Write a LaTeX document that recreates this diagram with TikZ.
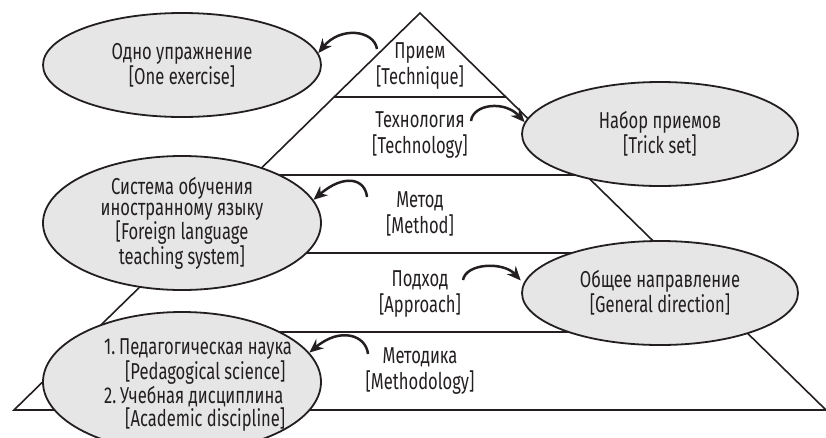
\documentclass[tikz,border=0pt]{standalone}
\usepackage{fontspec}
\setmainfont[FakeStretch=0.72]{Fira Sans}
\usetikzlibrary{shapes.geometric,arrows.meta,calc}
\definecolor{bubfill}{RGB}{230,230,230}
\definecolor{ink}{RGB}{35,31,32}
\newcommand\ebody{\fontsize{23}{21}\selectfont}
\newcommand\fbody{\fontsize{23}{19.5}\selectfont}
\newcommand\pbody{\fontsize{23}{26}\selectfont}
\begin{document}
\begin{tikzpicture}[x=1pt,y=-1pt,
  bub/.style={ellipse, draw=ink, line width=1.8pt, fill=bubfill, inner sep=0pt,
              minimum width=278pt, minimum height=104pt, align=center, font=\ebody, text=ink},
  lab/.style={align=center, font=\pbody, inner sep=0pt, text=ink},
  arr/.style={draw=ink, line width=2.5pt, -{Stealth[length=14pt,width=12pt]}},
  pyr/.style={draw=ink, line width=1.6pt}]
\clip (0,0) rectangle (826,437);
% pyramid
\coordinate (apex) at (420,13);
\coordinate (bl) at (14,410);
\coordinate (br) at (826,410);
\draw[pyr] (apex) -- (bl) -- (br) -- cycle;
\foreach \t [count=\i] in {0.2116,0.4081,0.6045,0.8035}{
  \coordinate (l\i) at ($(apex)!\t!(bl)$);
  \coordinate (r\i) at ($(apex)!\t!(br)$);
  \draw[pyr] (l\i) -- (r\i);
}
% level labels (base = baseline of the last line)
\node[lab, anchor=base] (p1) at (420,84) {Прием\\{[}Technique]};
\node[lab, anchor=base] (p2) at (420,153) {Технология\\{[}Technology]};
\node[lab, anchor=base] (p3) at (420,233) {Метод\\{[}Method]};
\node[lab, anchor=base] (p4) at (420,312) {Подход\\{[}Approach]};
\node[lab, anchor=base] (p5) at (420,389) {Методика\\{[}Methodology]};
% ellipses
\node[bub] (e1) at (182,65) {Одно упражнение\\{[}One exercise]};
\node[bub, minimum width=276pt] (e2) at (660,134) {Набор приемов\\{[}Trick set]};
\node[bub, minimum height=134pt] (e3) at (182,223) {Система обучения\\иностранному языку\\{[}Foreign language\\teaching system]};
\node[bub, minimum width=276pt] (e4) at (660,293) {Общее направление\\{[}General direction]};
\node[bub, minimum height=140pt] (e5) at (182,382) {};
\node[lab, align=left, font=\fbody, anchor=center] (t5) at (198,385)
  {1.\,Педагогическая наука\\\hspace*{21pt}[Pedagogical science]\\[1pt]2.\,Учебная дисциплина\\\hspace*{21pt}[Academic discipline]};
% arrow start points
\coordinate (s1) at (377,49);
\coordinate (s2) at (471,121);
\coordinate (s3) at (367,197);
\coordinate (s4) at (463,280);
\coordinate (s5) at (368,354);
\draw[arr] (s1) .. controls +(-3,-19) and +(22,-27) .. (e1.5);
\draw[arr] (s2) .. controls +(2,-17) and +(-20,-22) .. (e2.175);
\draw[arr] (s3) .. controls +(-2,-19) and +(30,-26) .. (e3.10);
\draw[arr, shorten >=4pt] (s4) .. controls +(3,-17) and +(-20,-22) .. (e4.176);
\draw[arr] (s5) .. controls +(-2,-19) and +(31,-26) .. (e5.13);
\end{tikzpicture}
\end{document}
